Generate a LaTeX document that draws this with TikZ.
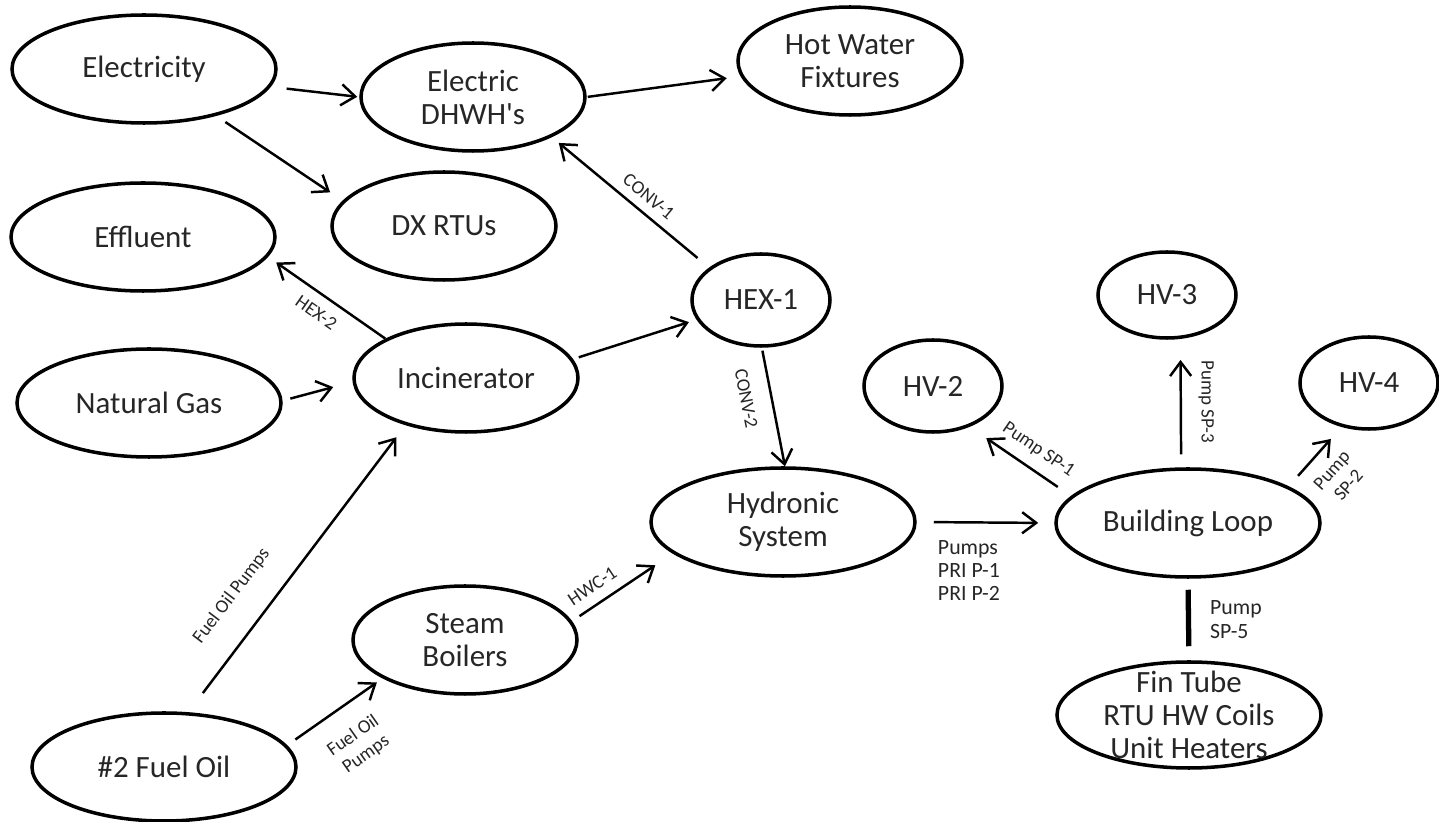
\documentclass[tikz,border=0pt]{standalone}
\usepackage{fontspec}
\usepackage{graphicx}
\setmainfont{Carlito}
\usetikzlibrary{arrows.meta,shapes,positioning}

\begin{document}
\begin{tikzpicture}
        [
            unit/.style={ellipse, draw, line width=1pt, inner sep=0pt, align=center,
                text=black!85, font=\fontsize{8.8}{9.4}\selectfont},
            wide/.style={unit, minimum width=2.64cm, minimum height=1.08cm},
            mid/.style={unit, minimum width=2.24cm, minimum height=1.08cm},
            small/.style={unit, minimum width=1.38cm, minimum height=0.92cm},
            flow/.style={line width=0.7pt, -{Straight Barb[length=4pt, width=6pt]}},
            tag/.style={sloped, inner sep=1pt, align=center, text=black!85,
                font=\fontsize{5.4}{6.4}\selectfont},
            pumptag/.style={inner sep=0pt, align=left, text=black!85,
                font=\fontsize{6.2}{6.6}\selectfont},
        ]
            \useasboundingbox (0,0) rectangle (14.39,8.22);

            \node[wide] (elec) at (1.44, 7.53) {Electricity};
            \node[mid] (dhwh) at (4.73, 7.25) {Electric\\DHWH\textquotesingle s};
            \node[mid] (hwf) at (8.50, 7.61) {Hot Water\\Fixtures};
            \node[mid] (dxrtu) at (4.44, 5.96) {DX RTUs};
            \node[wide] (effl) at (1.43, 5.85) {Effluent};
            \node[wide] (natgas) at (1.49, 4.19) {Natural Gas};
            \node[mid] (incin) at (4.66, 4.44) {Incinerator};
            \node[small] (hex1) at (7.61, 5.22) {HEX-1};
            \node[wide] (hydro) at (7.83, 3.00) {Hydronic\\System};
            \node[mid] (steam) at (4.65, 1.82) {Steam\\Boilers};
            \node[wide] (fuel) at (1.64, 0.55) {\#2 Fuel Oil};
            \node[wide] (bloop) at (11.88, 2.99) {Building Loop};
            \node[small] (hv2) at (9.33, 4.36) {HV-2};
            \node[small, minimum height=0.86cm] (hv3) at (11.67, 5.27) {HV-3};
            \node[small] (hv4) at (13.69, 4.39) {HV-4};
            \node[wide, minimum height=1.06cm,
                label={[align=center, text=black!85, font=\fontsize{8.8}{9.4}\selectfont]center:Fin Tube\\RTU HW Coils\\Unit Heaters}]
                (fintube) at (11.89, 1.07) {};

            \draw[flow, shorten <=1.6mm, shorten >=0.2mm] (elec.-8) -- (dhwh.180);
            \draw[flow, shorten <=1.1mm, shorten >=1.5mm] (elec.-33) -- (dxrtu.166);
            \draw[flow, shorten <=0.1mm, shorten >=1.4mm] (dhwh.0) -- (hwf.-172);
            \draw[flow, shorten <=1.5mm, shorten >=0.9mm] (hex1.148) -- (dhwh.-27)
                node[tag, pos=0.45, above=1.5pt] {CONV-1};
            \draw[flow, shorten >=1.0mm] (incin.154) -- (effl.-9)
                node[tag, pos=0.5, below=2pt] {HEX-2};
            \draw[flow, shorten <=0.8mm, shorten >=2.0mm] (natgas.1) -- (incin.-178);
            \draw[flow, shorten <=0.6mm, shorten >=0.8mm] (incin.10) -- (hex1.197);
            \draw[flow, shorten <=0.3mm] (hex1.-89) -- (hydro.88)
                node[tag, pos=0.39, below=4pt] {CONV-2};
            \draw[flow, shorten <=2.4mm, shorten >=1.5mm] (fuel.66) -- (incin.-142)
                node[tag, pos=0.33, above=6.5pt] {Fuel Oil Pumps};
            \draw[flow, shorten <=1.0mm, shorten >=0.7mm] (fuel.10) -- (steam.-155)
                node[tag, pos=0.51, below=5pt] {Fuel Oil\\Pumps};
            \draw[flow, shorten <=0.9mm, shorten >=2.1mm] (steam.10) -- (hydro.-164)
                node[tag, pos=0.3, above=2pt] {HWC-1};
            \draw[flow, shorten <=1.7mm, shorten >=1.6mm] (hydro.0) -- (bloop.180)
                node[pumptag, pos=0, anchor=north west, xshift=2mm, yshift=-1.7mm] {Pumps\\PRI P-1\\PRI P-2};
            \draw[flow, shorten <=1.6mm, shorten >=2.0mm] (bloop.167) -- (hv2.-48)
                node[tag, pos=0.43, above=2pt] {Pump SP-1};
            \draw[flow, shorten <=1.3mm, shorten >=2.1mm] (bloop.97) -- (hv3.-73)
                node[pos=0.51, anchor=west, xshift=4.7pt, inner sep=0pt, text=black!85,
                    font=\fontsize{5.4}{6.4}\selectfont] {\rotatebox{-90}{Pump SP-3}};
            \draw[flow, shorten <=1.4mm, shorten >=1.6mm] (bloop.20) -- (hv4.-122)
                node[tag, pos=0.51, below=3pt] {Pump\\SP-2};
            \draw[line width=1.5pt, shorten <=1.1mm, shorten >=1.4mm] (bloop.south) -- (fintube.north)
                node[pumptag, midway, anchor=west, xshift=1.9mm] {Pump\\SP-5};
        \end{tikzpicture}
\end{document}
